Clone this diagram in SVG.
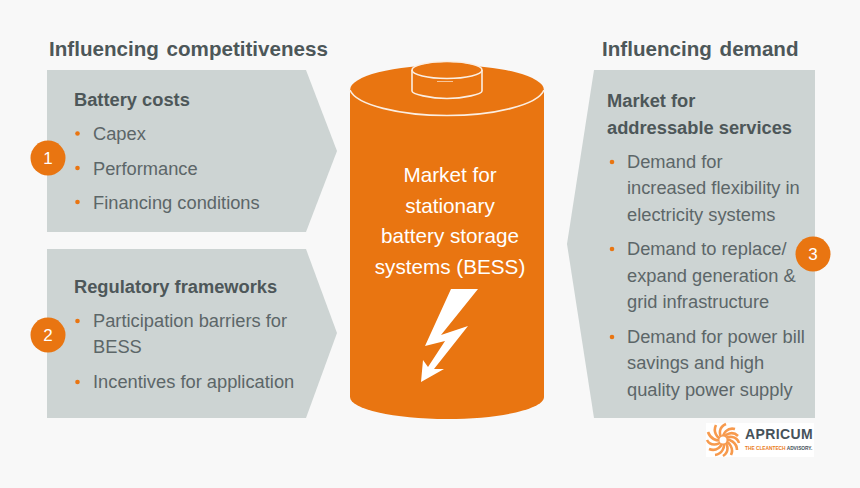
<svg xmlns="http://www.w3.org/2000/svg" width="860" height="488" viewBox="0 0 860 488">
<style>
text{font-family:"Liberation Sans",Arial,sans-serif}
.h{font-size:20.6px;font-weight:bold;fill:#4d5759;word-spacing:2px}
.b{font-size:18.3px;font-weight:bold;fill:#4d5759}
.t{font-size:18.3px;fill:#5c6668}
.o{fill:#e97511}
.p{fill:#cdd4d3}
.n{font-size:17px;fill:#fff;text-anchor:middle}
.c{font-size:20.7px;fill:#fff;text-anchor:middle}
.l{fill:none;stroke:#fbeee2;stroke-width:1.6}
.s{fill:none;stroke:#f79a4d;stroke-width:2.6}
</style>
<rect width="860" height="488" fill="#f8f8f8"/>
<text class="h" x="49" y="56">Influencing competitiveness</text>
<text class="h" x="602" y="56">Influencing demand</text>
<g id="node-battery-costs">
<polygon class="p" points="47,70 306,70 337,151 306,232 47,232"/>
<text class="b" x="74" y="106">Battery costs</text>
<text class="t" x="93" y="140">Capex</text><text class="t" x="93" y="175">Performance</text><text class="t" x="93" y="209">Financing conditions</text>
<circle class="o" cx="77.500" cy="133.500" r="2.300"/><circle class="o" cx="77.500" cy="168" r="2.300"/><circle class="o" cx="77.500" cy="202" r="2.300"/>
<circle class="o" cx="48" cy="158" r="17.500"/><text class="n" x="48" y="164">1</text>
</g>
<g id="node-regulatory">
<polygon class="p" points="47,249 306,249 337,333 306,418 47,418"/>
<text class="b" x="74" y="293">Regulatory frameworks</text>
<text class="t" x="93" y="327">Participation barriers for</text><text class="t" x="93" y="353">BESS</text><text class="t" x="93" y="388">Incentives for application</text>
<circle class="o" cx="77.500" cy="321" r="2.300"/><circle class="o" cx="77.500" cy="382" r="2.300"/>
<circle class="o" cx="48" cy="335" r="17.500"/><text class="n" x="48" y="341">2</text>
</g>
<g id="node-addressable">
<polygon class="p" points="815,70 594,70 567,244 594,418 815,418"/>
<text class="b" x="607" y="107">Market for</text><text class="b" x="607" y="134">addressable services</text>
<text class="t" x="627" y="168">Demand for</text><text class="t" x="627" y="194">increased flexibility in</text><text class="t" x="627" y="221">electricity systems</text>
<text class="t" x="627" y="255">Demand to replace/</text><text class="t" x="627" y="282">expand generation &amp;</text><text class="t" x="627" y="308">grid infrastructure</text>
<text class="t" x="627" y="343">Demand for power bill</text><text class="t" x="627" y="369">savings and high</text><text class="t" x="627" y="396">quality power supply</text>
<circle class="o" cx="612" cy="162" r="2.300"/><circle class="o" cx="612" cy="249" r="2.300"/><circle class="o" cx="612" cy="337" r="2.300"/>
<circle class="o" cx="813" cy="254" r="17.500"/><text class="n" x="813" y="260">3</text>
</g>
<g id="node-battery">
<path class="o" d="M350 90A97 25 0 0 1 544 90V397C544 409 500 419 447 419S350 409 350 397Z"/>
<path class="l" d="M350 90C356 105 400 115.500 447 115.500S538 105 544 90"/>
<path class="o" d="M412 70C412 65 430 62 447 62S482 65 482 70V91C482 94 465 98.500 447 98.500S412 94 412 91Z"/>
<ellipse class="l" cx="447" cy="70" rx="35" ry="8.500"/>
<path class="l" d="M412 70V91C412 94 430 98.500 447 98.500S482 94 482 91V70"/>
<path d="M437 81.500H453" stroke="#f7c59a" stroke-width="1" fill="none"/>
<text class="c" x="450" y="182">Market for</text><text class="c" x="450" y="213">stationary</text><text class="c" x="450" y="243">battery storage</text><text class="c" x="450" y="274">systems (BESS)</text>
<polygon fill="#fff" points="451,289 478,289 441,335 468,326 434,369 444,369 421,382 423,360 428,367 445,341 425,346"/>
</g>
<g id="logo">
<rect x="706" y="423" width="108" height="34" fill="#fff"/>
<g class="s"><path d="M723 440C718 434 719 427 726 424"/><path d="M723 440C716 438 713 431 716 425"/><path d="M723 440C716 442 710 438 708 432"/><path d="M723 440C718 446 710 446 707 440"/><path d="M723 440C722 447 716 452 709 449"/><path d="M723 440C726 447 722 454 715 455"/><path d="M723 440C729 445 729 452 723 456"/><path d="M723 440C730 442 734 449 731 455"/><path d="M723 440C730 438 737 443 737 450"/><path d="M723 440C728 435 737 436 739 443"/><path d="M723 440C725 433 733 431 738 436"/><path d="M723 440C722 433 728 427 735 429"/></g>
<circle cx="723" cy="440" r="3.500" fill="#fff"/>
<text x="745" y="439" font-size="14" font-weight="bold" fill="#46525a" letter-spacing="0.400">APRICUM</text>
<text x="745" y="449.500" font-size="4.800" font-weight="bold" fill="#ea7a1c">THE CLEANTECH <tspan fill="#46525a">ADVISORY.</tspan></text>
</g>
<g id="connectors"/>
</svg>
